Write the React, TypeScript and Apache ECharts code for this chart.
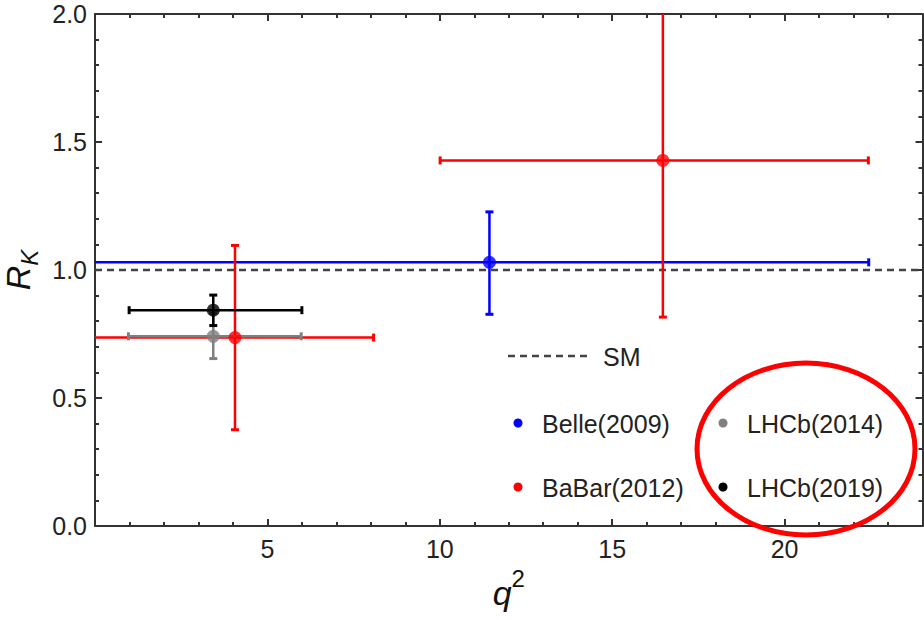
import React, { useEffect, useRef } from "react";
import * as echarts from "echarts";

// ---- data ----
const experimentNames = ["Belle(2009)", "BaBar(2012)", "BaBar(2012)", "LHCb(2014)", "LHCb(2019)"];
const q2Center = [11.44, 4.06, 16.47, 3.43, 3.43];
const q2Low = [0.0, 0.0, 10.01, 0.97, 0.99];
const q2High = [22.44, 8.08, 22.43, 5.98, 6.0];
const rkCenter = [1.03, 0.736, 1.428, 0.741, 0.843];
const rkLow = [0.827, 0.376, 0.816, 0.654, 0.783];
const rkHigh = [1.227, 1.096, 2.08, 0.83, 0.902];
const smValue = 1.0;
const xRange = [0, 24];
const yRange = [0, 2];
const legendRows = [
  ["Belle(2009)", "LHCb(2014)"],
  ["BaBar(2012)", "LHCb(2019)"],
];

// ---- styles ----
const FONT = "'Liberation Sans', Arial, sans-serif";
const pointColors = ["#0000ff", "#ff0000", "#ff0000", "#808080", "#000000"];
const legendColors = [
  ["#0000ff", "#808080"],
  ["#ff0000", "#000000"],
];
const AXIS_COLOR = "#333333";
const DASH_COLOR = "#444444";
const TEXT_COLOR = "#222222";

function makeAxis(dim: "x" | "y", position: string, interval: number, major: boolean, labels: boolean, extra: any = {}) {
  const range = dim === "x" ? xRange : yRange;
  return {
    type: "value",
    min: range[0],
    max: range[1],
    interval,
    position,
    axisLine: { show: major, onZero: false, lineStyle: { color: AXIS_COLOR, width: 2 } },
    axisTick: { show: true, inside: true, length: major ? 7 : 4, lineStyle: { color: AXIS_COLOR, width: 2 } },
    axisLabel: labels
      ? {
          show: true,
          color: TEXT_COLOR,
          fontSize: 25,
          fontFamily: FONT,
          margin: dim === "x" ? 10 : 8,
          formatter: (v: number) => {
            if (dim === "x") return v === 0 || v === range[1] ? "" : String(v);
            return v.toFixed(1);
          },
        }
      : { show: false },
    splitLine: { show: false },
    ...extra,
  };
}

export default function App() {
  const ref = useRef<HTMLDivElement>(null);
  useEffect(() => {
    if (!ref.current) return;
    const chart = echarts.init(ref.current, undefined, { renderer: "svg" });

    const barData = q2Center.map((x, i) => [x, rkCenter[i], q2Low[i], q2High[i], rkLow[i], rkHigh[i], i]);
    const pointData = q2Center.map((x, i) => ({
      value: [x, rkCenter[i]],
      name: experimentNames[i],
      itemStyle: { color: pointColors[i] },
    }));

    const legendGraphics: any[] = [];
    legendGraphics.push({
      type: "line",
      shape: { x1: 508, y1: 356, x2: 587, y2: 356 },
      style: { stroke: DASH_COLOR, lineWidth: 2.5, lineDash: [7, 5] },
      z: 50,
    });
    legendGraphics.push({
      type: "text",
      x: 603,
      y: 357,
      style: { text: "SM", fontSize: 25, fontFamily: FONT, fill: TEXT_COLOR, verticalAlign: "middle", align: "left" },
      z: 50,
    });
    const colX = [518, 723];
    const rowY = [423, 487];
    legendRows.forEach((row, r) => {
      row.forEach((name, c) => {
        legendGraphics.push({
          type: "circle",
          shape: { cx: colX[c], cy: rowY[r], r: 4.5 },
          style: { fill: legendColors[r][c] },
          z: 50,
        });
        legendGraphics.push({
          type: "text",
          x: colX[c] + 24,
          y: rowY[r] + 1,
          style: { text: name, fontSize: 25, fontFamily: FONT, fill: TEXT_COLOR, verticalAlign: "middle", align: "left" },
          z: 50,
        });
      });
    });
    legendGraphics.push({
      type: "ellipse",
      shape: { cx: 806, cy: 449, rx: 109, ry: 86 },
      style: { fill: "none", stroke: "#ff0000", lineWidth: 5 },
      z: 100,
    });

    const option: any = {
      animation: false,
      backgroundColor: "#ffffff",
      grid: { left: 95, right: 1.5, top: 14, bottom: 94, containLabel: false, outerBoundsMode: "none" },
      xAxis: [
        makeAxis("x", "bottom", 5, true, true, {
          name: "{q|q}{s|2}",
          nameLocation: "middle",
          nameGap: 40,
          nameTextStyle: {
            rich: {
              q: { fontSize: 34, fontStyle: "italic", fontFamily: FONT, color: "#111", lineHeight: 44, verticalAlign: "bottom" },
              s: { fontSize: 24, fontFamily: FONT, color: "#111", lineHeight: 24, verticalAlign: "top" },
            },
          },
        }),
        makeAxis("x", "bottom", 1, false, false),
        makeAxis("x", "top", 5, true, false),
        makeAxis("x", "top", 1, false, false),
      ],
      yAxis: [
        makeAxis("y", "left", 0.5, true, true, {
          name: "{r|R}{k|K}",
          nameLocation: "middle",
          nameRotate: 90,
          nameGap: 54,
          nameTextStyle: {
            rich: {
              r: { fontSize: 34, fontStyle: "italic", fontFamily: FONT, color: "#111", lineHeight: 40, verticalAlign: "top" },
              k: { fontSize: 24, fontStyle: "italic", fontFamily: FONT, color: "#111", lineHeight: 24, verticalAlign: "bottom" },
            },
          },
        }),
        makeAxis("y", "left", 0.1, false, false),
        makeAxis("y", "right", 0.5, true, false),
        makeAxis("y", "right", 0.1, false, false),
      ],
      series: [
        {
          type: "line",
          name: "SM",
          xAxisIndex: 0,
          yAxisIndex: 0,
          data: [
            [xRange[0], smValue],
            [xRange[1], smValue],
          ],
          symbol: "none",
          lineStyle: { color: DASH_COLOR, width: 2.5, type: [7, 5] },
          z: 2,
          silent: true,
        },
        {
          type: "custom",
          name: "errors",
          xAxisIndex: 0,
          yAxisIndex: 0,
          clip: true,
          z: 3,
          data: barData,
          renderItem: (params: any, api: any) => {
            const x = api.value(0);
            const y = api.value(1);
            const xl = api.value(2);
            const xh = api.value(3);
            const yl = api.value(4);
            const yhRaw = api.value(5);
            const idx = api.value(6);
            const yh = Math.min(yhRaw, yRange[1]);
            const c = pointColors[idx];
            const pL = api.coord([xl, y]);
            const pR = api.coord([xh, y]);
            const pB = api.coord([x, yl]);
            const pT = api.coord([x, yh]);
            const ls = { stroke: c, lineWidth: 2.5 };
            const cs = { stroke: c, lineWidth: 3 };
            const cap = 4;
            const children: any[] = [
              { type: "line", shape: { x1: pL[0], y1: pL[1], x2: pR[0], y2: pR[1] }, style: ls },
              { type: "line", shape: { x1: pB[0], y1: pB[1], x2: pT[0], y2: pT[1] }, style: ls },
              { type: "line", shape: { x1: pR[0], y1: pR[1] - cap, x2: pR[0], y2: pR[1] + cap }, style: cs },
              { type: "line", shape: { x1: pB[0] - cap, y1: pB[1], x2: pB[0] + cap, y2: pB[1] }, style: cs },
            ];
            if (xl > xRange[0]) {
              children.push({ type: "line", shape: { x1: pL[0], y1: pL[1] - cap, x2: pL[0], y2: pL[1] + cap }, style: cs });
            }
            if (yhRaw <= yRange[1]) {
              children.push({ type: "line", shape: { x1: pT[0] - cap, y1: pT[1], x2: pT[0] + cap, y2: pT[1] }, style: cs });
            }
            return { type: "group", children };
          },
        },
        {
          type: "scatter",
          name: "points",
          xAxisIndex: 0,
          yAxisIndex: 0,
          symbol: "circle",
          symbolSize: 13,
          z: 4,
          data: pointData,
        },
      ],
      graphic: legendGraphics,
    };
    chart.setOption(option);
    return () => chart.dispose();
  }, []);
  return <div ref={ref} style={{ width: 924, height: 620, position: "absolute", left: 0, top: 0 }} />;
}
